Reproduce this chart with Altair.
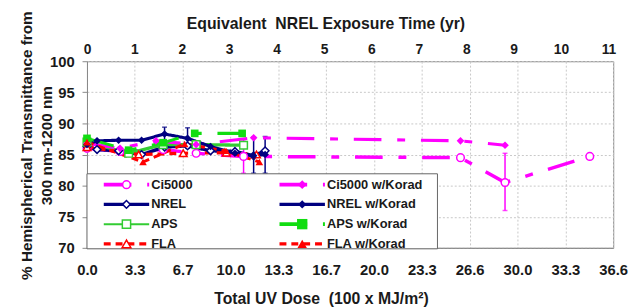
import altair as alt
import pandas as pd

# ---------------- data ----------------
series = ["Ci5000", "NREL", "APS", "FLA",
          "Ci5000 w/Korad", "NREL w/Korad", "APS w/Korad", "FLA w/Korad"]

ci_dose = [0, 2.3, 5.3, 7.6, 10.9, 26.0, 29.1, 35.0]
ci_t = [86.0, 85.5, 85.8, 85.2, 84.7, 84.5, 80.5, 84.7]
cik_dose = [0, 2.3, 4.8, 7.6, 11.6, 26.0, 29.1]
cik_t = [86.8, 86.0, 87.2, 86.6, 87.7, 87.2, 86.5]
nrel_dose = [0, 0.7, 2.2, 3.8, 5.4, 7.0, 8.6, 10.3, 11.6, 12.4]
nrel_t = [86.3, 85.8, 85.6, 85.0, 86.2, 86.4, 85.6, 85.5, 84.8, 85.6]
nrelk_dose = [0, 0.7, 2.2, 3.8, 5.4, 7.0, 8.6, 10.3, 11.6, 12.4]
nrelk_t = [86.6, 87.2, 87.3, 87.3, 88.3, 87.6, 86.3, 85.2, 84.8, 85.0]
aps_dose = [0, 2.9, 5.3, 7.6, 10.9]
aps_t = [87.0, 85.2, 86.6, 86.6, 86.5]
apsk_dose = [0, 2.9, 5.3, 7.5, 10.8]
apsk_t = [87.6, 85.7, 86.9, 88.4, 88.4]
fla_dose = [0, 3.6, 6.7, 9.7, 11.8]
fla_t = [86.2, 85.0, 85.2, 85.3, 85.0]
flak_dose = [0, 3.9, 6.8, 9.6, 12.0]
flak_t = [87.0, 83.8, 86.7, 85.6, 83.8]

err_series = ["Ci5000", "Ci5000", "NREL w/Korad", "NREL w/Korad", "NREL w/Korad", "NREL w/Korad"]
err_dose = [10.9, 29.1, 5.4, 7.0, 11.6, 12.4]
err_lo = [82.0, 76.0, 87.2, 86.0, 82.0, 82.0]
err_hi = [87.4, 85.2, 89.4, 89.3, 87.8, 87.9]

bottom_ticks = [0, 3.33, 6.66, 9.99, 13.32, 16.65, 19.98, 23.31, 26.64, 29.97, 33.3, 36.63]
bottom_labels = ["0.0", "3.3", "6.7", "10.0", "13.3", "16.7", "20.0", "23.3",
                 "26.6", "30.0", "33.3", "36.6"]
top_ticks = [0, 1, 2, 3, 4, 5, 6, 7, 8, 9, 10, 11]
y_ticks = [70, 75, 80, 85, 90, 95, 100]

top_title = "Equivalent\u00a0 NREL Exposure Time (yr)"
bottom_title = "Total UV Dose\u00a0 (100 x MJ/m²)"
y_title = ["% Hemispherical Transmittance from", "300 nm-1200 nm"]

# ---------------- styles ----------------
colors = ["#FF00FF", "#000080", "#33CC33", "#FF0000",
          "#FF00FF", "#000080", "#11DD11", "#FF0000"]
long_dash = [28, 16, 8, 16]
fla_dash = [7, 5]
solid = [1, 0]
dashes = [long_dash, solid, solid, fla_dash, long_dash, solid, long_dash, fla_dash]
widths = [3.5, 3, 1.5, 3, 3.5, 3, 3.5, 3]
shapes = ["circle", "diamond", "square", "triangle-up",
          "diamond", "diamond", "square", "triangle-up"]
sizes = [60, 60, 70, 80, 80, 70, 110, 90]
filled = [False, False, False, False, True, True, True, True]

FONT = "Liberation Sans"
TXT = "#1a1a1a"
W, H = 533, 189

pairs = {
    "Ci5000": (ci_dose, ci_t), "NREL": (nrel_dose, nrel_t),
    "APS": (aps_dose, aps_t), "FLA": (fla_dose, fla_t),
    "Ci5000 w/Korad": (cik_dose, cik_t), "NREL w/Korad": (nrelk_dose, nrelk_t),
    "APS w/Korad": (apsk_dose, apsk_t), "FLA w/Korad": (flak_dose, flak_t),
}
rows = []
for s in series:
    d, t = pairs[s]
    for i, (a, b) in enumerate(zip(d, t)):
        rows.append({"series": s, "dose": a, "T": b, "idx": i})
df = pd.DataFrame(rows)
err_df = pd.DataFrame({"series": err_series, "dose": err_dose, "lo": err_lo, "hi": err_hi})

label_expr = "[" + ",".join("'%s'" % l for l in bottom_labels) + "][round(datum.value/3.33)]"

x_scale = alt.Scale(domain=[0, 36.63], nice=False, zero=False)
y_scale = alt.Scale(domain=[70, 100], nice=False, zero=False)

x_axis = alt.Axis(values=bottom_ticks, labelExpr=label_expr, grid=True, ticks=False,
                  labelPadding=15, labelFontSize=15, labelFlush=False, labelOverlap=False,
                  title=bottom_title, titleFontSize=16,
                  titleX=237, titleY=51.5, titleAlign="center", titleBaseline="middle")
y_axis = alt.Axis(values=y_ticks, grid=True, tickSize=5, labelPadding=8, labelFontSize=15,
                  title=y_title,
                  titleFontSize=15.5, titleAngle=270, titleX=-61, titleY=85,
                  titleAlign="center", titleBaseline="middle", titleLineHeight=20)

X = alt.X("dose:Q", scale=x_scale, axis=x_axis)
Y = alt.Y("T:Q", scale=y_scale, axis=y_axis)

color_enc = alt.Color("series:N", scale=alt.Scale(domain=series, range=colors), legend=None)

err = alt.Chart(err_df).mark_errorbar(ticks=True, thickness=1.5).encode(
    x=X, y=alt.Y("lo:Q", scale=y_scale, axis=y_axis), y2="hi:Q", color=color_enc)

lines = alt.Chart(df).mark_line(strokeCap="butt").encode(
    x=X, y=Y, color=color_enc,
    strokeDash=alt.StrokeDash("series:N", scale=alt.Scale(domain=series, range=dashes), legend=None),
    strokeWidth=alt.StrokeWidth("series:N", scale=alt.Scale(domain=series, range=widths), legend=None),
    order="idx:Q")

shape_enc = alt.Shape("series:N", scale=alt.Scale(domain=series, range=shapes), legend=None)
size_enc = alt.Size("series:N", scale=alt.Scale(domain=series, range=sizes), legend=None)
open_series = [s for s, f in zip(series, filled) if not f]
filled_series = [s for s, f in zip(series, filled) if f]

open_pts = alt.Chart(df).transform_filter(
    alt.FieldOneOfPredicate(field="series", oneOf=open_series)
).mark_point(filled=False, fill="white", strokeWidth=1.5, opacity=1).encode(
    x=X, y=Y, color=color_enc, shape=shape_enc, size=size_enc)

filled_pts = alt.Chart(df).transform_filter(
    alt.FieldOneOfPredicate(field="series", oneOf=filled_series)
).mark_point(filled=True, opacity=1).encode(
    x=X, y=Y, color=color_enc, shape=shape_enc, size=size_enc)

# ---------------- legend (drawn inside plot) ----------------
one = pd.DataFrame({"k": [0]})
legend_layers = [alt.Chart(one).mark_rect(fill="white", stroke="#666666", strokeWidth=1).encode(
    x=alt.value(0), x2=alt.value(355), y=alt.value(114), y2=alt.value(190))]
for i, s in enumerate(series):
    col, row = divmod(i, 4)
    ly = 125 + 20 * row
    lx = 17 + 178 * col
    legend_layers.append(alt.Chart(one).mark_rule(
        color=colors[i], strokeWidth=widths[i] + 0.5, strokeDash=dashes[i], strokeCap="butt"
    ).encode(x=alt.value(lx), x2=alt.value(lx + 46), y=alt.value(ly)))
    if filled[i]:
        pm = alt.Chart(one).mark_point(shape=shapes[i], filled=True, color=colors[i],
                                       size=sizes[i], opacity=1)
    else:
        pm = alt.Chart(one).mark_point(shape=shapes[i], filled=False, fill="white",
                                       color=colors[i], strokeWidth=1.5, size=sizes[i], opacity=1)
    legend_layers.append(pm.encode(x=alt.value(lx + 23), y=alt.value(ly)))
    legend_layers.append(alt.Chart(one).mark_text(
        text=s, align="left", baseline="middle", font=FONT, fontSize=13,
        fontWeight="bold", color=TXT
    ).encode(x=alt.value(lx + 48), y=alt.value(ly)))

main = alt.layer(err, lines, open_pts, filled_pts, *legend_layers)

top = alt.Chart(pd.DataFrame({"yr": top_ticks})).mark_point(opacity=0).encode(
    x=alt.X("yr:Q", scale=alt.Scale(domain=[0, 11.1], nice=False, zero=False),
            axis=alt.Axis(orient="top", values=top_ticks, format="d", grid=False, ticks=False,
                          domain=False, labelPadding=5, labelFontSize=14, labelFlush=False,
                          labelOverlap=False,
                          title=top_title, titleFontSize=16,
                          titleX=241.5, titleY=-38.5, titleAlign="center",
                          titleBaseline="middle")))

chart = alt.layer(main, top).resolve_scale(x="independent").properties(
    width=W, height=H,
    padding={"left": 80, "top": 52, "right": 16, "bottom": 58},
    autosize=alt.AutoSizeParams(type="none"),
).configure_axis(
    labelFont=FONT, titleFont=FONT, labelFontWeight="bold", titleFontWeight="bold",
    labelColor=TXT, titleColor=TXT, gridColor="#c8c8c8", gridDash=[2, 2],
    domainColor="#888888", tickColor="#888888",
).configure_view(stroke="#888888", strokeWidth=1)

chart.save("out.html", embed_options={"renderer": "svg", "actions": False})
